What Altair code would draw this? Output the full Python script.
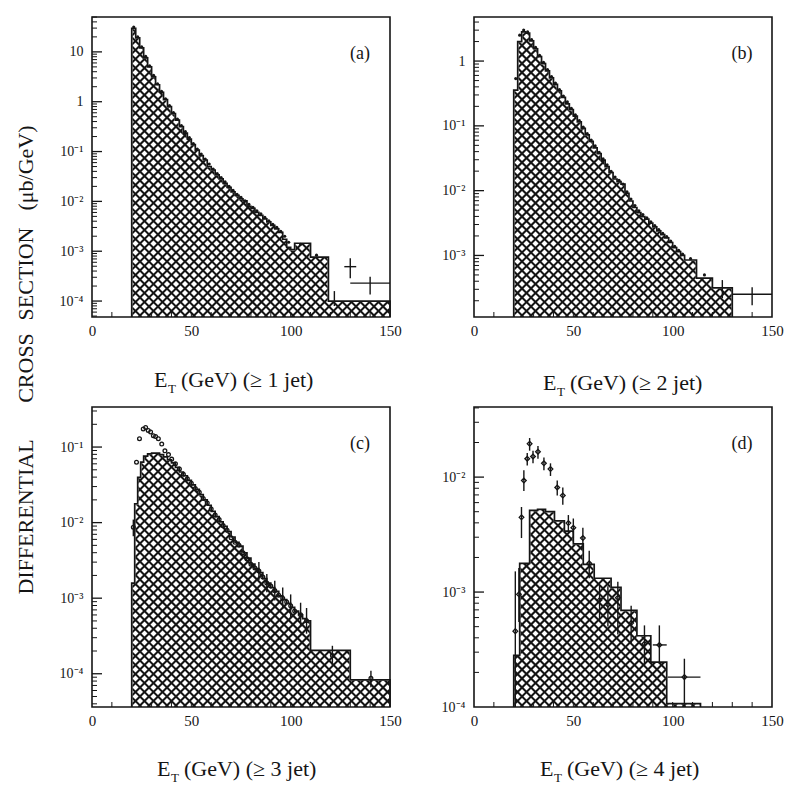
import math
import altair as alt
import pandas as pd

XMAX = 150
PW, PH = 298, 300
FONT = "Liberation Serif"
INK = "#151515"

# ---------------- values (log10 of dσ/dE_T in µb/GeV) ----------------
# (a)  >= 1 jet
A_EDGES = list(range(20, 101, 2)) + [102, 110, 119, 150]
A_HIST = [1.47, 1.28, 1.08, 0.88, 0.70, 0.50, 0.34, 0.19, 0.04, -0.10,
          -0.24, -0.37, -0.50, -0.63, -0.75, -0.86, -0.97, -1.08, -1.17, -1.30,
          -1.37, -1.47, -1.55, -1.64, -1.72, -1.81, -1.88, -1.95, -1.99, -2.10,
          -2.14, -2.22, -2.28, -2.35, -2.41, -2.48, -2.55, -2.62, -2.76, -2.92,
          -2.97, -2.84, -3.12, -4.00]
A_PTS_X = list(range(21, 100, 2)) + [105, 113]
A_PTS_Y = [1.50, 1.30, 1.10, 0.91, 0.72, 0.53, 0.36, 0.21, 0.06, -0.08,
           -0.22, -0.35, -0.48, -0.60, -0.72, -0.84, -0.95, -1.05, -1.15, -1.25,
           -1.35, -1.44, -1.52, -1.61, -1.70, -1.78, -1.86, -1.92, -1.99, -2.06,
           -2.12, -2.19, -2.25, -2.32, -2.39, -2.46, -2.52, -2.60, -2.70, -2.82,
           -2.86, -3.08]
A_ERR_X = [122, 130, 140]
A_ERR_MID = [-3.94, -3.31, -3.64]
A_ERR_LO = [-4.10, -3.54, -3.87]
A_ERR_HI = [-3.80, -3.14, -3.51]
A_XERR_Y = [-3.31, -3.64]
A_XERR_LO = [127, 130]
A_XERR_HI = [133, 150]

# (b)  >= 2 jet
B_EDGES = list(range(20, 107, 2)) + [112, 120, 130]
B_HIST = [-0.45, 0.30, 0.45, 0.43, 0.31, 0.19, 0.07, -0.04, -0.15, -0.26,
          -0.36, -0.46, -0.56, -0.66, -0.75, -0.85, -0.94, -1.04, -1.14, -1.24,
          -1.34, -1.43, -1.53, -1.63, -1.72, -1.82, -1.86, -1.90, -2.04, -2.16,
          -2.26, -2.34, -2.40, -2.44, -2.50, -2.56, -2.62, -2.68, -2.73, -2.80,
          -2.88, -2.94, -3.00, -3.07, -3.35, -3.50]
B_PTS_X = list(range(21, 106, 2)) + [109, 116]
B_PTS_Y = [-0.27, 0.40, 0.48, 0.45, 0.33, 0.21, 0.09, -0.02, -0.13, -0.24,
           -0.34, -0.44, -0.54, -0.63, -0.73, -0.83, -0.92, -1.02, -1.12, -1.22,
           -1.31, -1.41, -1.51, -1.60, -1.70, -1.79, -1.84, -1.90, -2.02, -2.13,
           -2.23, -2.31, -2.37, -2.42, -2.48, -2.54, -2.60, -2.66, -2.71, -2.78,
           -2.86, -2.92, -2.98, -3.05, -3.30]
B_ERR_X = [125, 140]
B_ERR_MID = [-3.50, -3.60]
B_ERR_LO = [-3.66, -3.77]
B_ERR_HI = [-3.38, -3.49]
B_XERR_Y = [-3.60]
B_XERR_LO = [130]
B_XERR_HI = [150]

# (c)  >= 3 jet
C_EDGES = [20, 21.5, 23, 24.5] + list(range(26, 111, 2)) + [130, 150]
C_HIST = [-2.80, -1.75, -1.40, -1.20,
          -1.12, -1.09, -1.08, -1.08, -1.10, -1.13, -1.17, -1.21, -1.27, -1.33,
          -1.38, -1.44, -1.50, -1.56, -1.63, -1.70, -1.77, -1.85, -1.92, -1.99,
          -2.05, -2.12, -2.19, -2.26, -2.31, -2.40, -2.47, -2.55, -2.61, -2.66,
          -2.74, -2.80, -2.86, -2.91, -2.97, -3.02, -3.07, -3.12, -3.17, -3.22,
          -3.27, -3.30,
          -3.69, -4.08]
C_PTS_X = [20.8, 22.4, 23.9, 25.8, 27.0, 28.3, 29.5, 30.9, 32.0, 33.4,
           35.1, 36.7, 38.5, 40.1, 42, 44, 46, 48, 50, 52,
           54, 56, 58, 60, 62, 64, 66, 68, 70, 72,
           74, 76, 78, 80, 82, 84, 86, 88, 90, 92,
           94, 96, 98, 100, 102, 105, 108, 121, 140.4]
C_PTS_Y = [-2.06, -1.20, -0.89, -0.76, -0.74, -0.78, -0.80, -0.85, -0.86, -0.89,
           -0.96, -1.05, -1.10, -1.16, -1.22, -1.29, -1.36, -1.42, -1.48, -1.55,
           -1.60, -1.68, -1.74, -1.82, -1.90, -1.96, -2.04, -2.10, -2.20, -2.26,
           -2.30, -2.40, -2.48, -2.55, -2.60, -2.64, -2.72, -2.80, -2.84, -2.90,
           -2.96, -3.00, -3.05, -3.10, -3.17, -3.22, -3.30, -3.76, -4.06]
C_ERR_X = [20.8, 84, 88, 92, 96, 100, 105, 108, 121, 140.4]
C_ERR_LO = [-2.18, -2.76, -2.92, -3.03, -3.14, -3.25, -3.38, -3.47, -3.89, -4.18]
C_ERR_HI = [-1.96, -2.52, -2.68, -2.77, -2.86, -2.95, -3.06, -3.13, -3.63, -3.96]
C_XERR_Y, C_XERR_LO, C_XERR_HI = [], [], []

# (d)  >= 4 jet
D_EDGES = [20, 23, 28, 32, 36, 40.5, 45.5, 50, 55, 60.5, 69, 74, 82, 89, 97, 114]
D_HIST = [-3.55, -2.75, -2.29, -2.28, -2.30, -2.38, -2.47, -2.58, -2.76, -2.88,
          -2.96, -3.16, -3.38, -3.61, -3.97]
D_PTS_X = [20.8, 22.6, 23.9, 25.1, 26.8, 28.0, 29.7, 32.2, 35.2, 38.5,
           41.9, 44.7, 47.5, 50.0, 54.8, 58.0, 63.2, 67.4, 72.4, 79.1,
           85.8, 93.3, 105.9]
D_PTS_Y = [-3.34, -3.02, -2.35, -2.03, -1.84, -1.71, -1.82, -1.78, -1.88, -1.93,
           -2.09, -2.16, -2.40, -2.44, -2.53, -2.75, -3.07, -3.11, -3.05, -3.27,
           -3.45, -3.46, -3.74]
D_ERR_LO = [-4.00, -3.26, -2.53, -2.12, -1.90, -1.77, -1.88, -1.84, -1.94, -1.99,
            -2.16, -2.24, -2.48, -2.53, -2.63, -2.88, -3.23, -3.30, -3.37, -3.45,
            -3.64, -3.62, -3.99]
D_ERR_HI = [-2.82, -2.79, -2.26, -1.94, -1.79, -1.66, -1.77, -1.73, -1.83, -1.88,
            -2.03, -2.09, -2.33, -2.36, -2.44, -2.64, -2.94, -2.95, -2.91, -3.12,
            -3.29, -3.29, -3.58]
D_XERR_Y = [-3.46, -3.74]
D_XERR_LO = [90, 97.5]
D_XERR_HI = [97, 114]

X_TICK_LABELS = [0, 50, 100, 150]

LABEL_EXPR = ("datum.value > 5 ? '10\u00a0\u00a0' : datum.value > 0.5 ? '1\u00a0\u00a0' : "
              "datum.value > 0.05 ? '10⁻¹' : datum.value > 0.005 ? '10⁻²' : "
              "datum.value > 0.0005 ? '10⁻³' : '10⁻⁴'")


def hatch_df(lmin, lmax, step=9.0):
    def dx(p):
        return p / PW * XMAX

    def dy(p):
        return 10 ** (lmax - p / PH * (lmax - lmin))

    rows = []
    c = step / 2
    while c < PW + PH:
        x0, x1 = max(0.0, c - PH), min(float(PW), c)
        rows.append(dict(x=dx(x0), y=dy(c - x0), x2=dx(x1), y2=dy(c - x1)))
        c += step
    c = -PH + step / 2
    while c < PW:
        x0, x1 = max(0.0, c), min(float(PW), c + PH)
        rows.append(dict(x=dx(x0), y=dy(x0 - c), x2=dx(x1), y2=dy(x1 - c)))
        c += step
    return pd.DataFrame(rows)


def one():
    return pd.DataFrame({"k": [0]})


def panel(tag, edges, hist, px, py, ex, elo, ehi, hy, hx0, hx1, ylim, njet,
          title_dx, title_base, marker, msize, mfilled):
    lmin, lmax = ylim
    ymin, ymax = 10 ** lmin, 10 ** lmax
    xs = alt.Scale(domain=[0, XMAX], nice=False, zero=False)
    ys = alt.Scale(type="log", domain=[ymin, ymax], nice=False)
    decades = [10 ** k for k in range(-6, 3) if lmin - 1e-6 <= k <= lmax + 1e-6]
    xaxis = alt.Axis(values=X_TICK_LABELS, ticks=False, domain=False, grid=False,
                     labelFlush=False, labelOverlap=False, labelFont=FONT,
                     labelFontSize=15, labelPadding=6, labelColor=INK, title=None)
    yaxis = alt.Axis(values=decades, labelExpr=LABEL_EXPR, ticks=False, domain=False,
                     grid=False, labelFlush=False, labelOverlap=False, labelFont=FONT,
                     labelFontSize=14, labelPadding=9, labelColor=INK, title=None)
    X = lambda f: alt.X(f, scale=xs, axis=xaxis)
    Y = lambda f: alt.Y(f, scale=ys, axis=yaxis)

    layers = []
    # cross-hatch over the whole plot, then white rectangles above the histogram
    layers.append(alt.Chart(hatch_df(lmin, lmax)).mark_rule(
        color=INK, strokeWidth=2.0, clip=True
    ).encode(x=X("x:Q"), x2="x2:Q", y=Y("y:Q"), y2="y2:Q"))

    vals = [10 ** v for v in hist]
    m_x0 = [0] + list(edges[:-1]) + [edges[-1]]
    m_x1 = [edges[0]] + list(edges[1:]) + [XMAX]
    m_y0 = [ymin] + vals + [ymin]
    mask_df = pd.DataFrame({"x0": m_x0, "x1": m_x1, "y0": m_y0, "y1": ymax})
    layers.append(alt.Chart(mask_df).mark_rect(
        color="white", stroke="white", strokeWidth=1.5, opacity=1, clip=True
    ).encode(x=X("x0:Q"), x2="x1:Q", y=Y("y0:Q"), y2="y1:Q"))

    out_rows = [(edges[0], ymin)] + list(zip(edges[:-1], vals)) + [(edges[-1], vals[-1]), (edges[-1], ymin)]
    out_df = pd.DataFrame({"x": [r[0] for r in out_rows], "y": [r[1] for r in out_rows],
                           "i": list(range(len(out_rows)))})
    layers.append(alt.Chart(out_df).mark_line(
        interpolate="step-after", color=INK, strokeWidth=1.7
    ).encode(x=X("x:Q"), y=Y("y:Q"), order="i:Q"))

    # inner ticks on the left and bottom edges
    minor, major = [], []
    for k in range(-6, 3):
        for d in range(1, 10):
            if lmin < k + math.log10(d) < lmax:
                (major if d == 1 else minor).append(d * 10 ** k)
    layers.append(alt.Chart(pd.DataFrame({"v": major})).mark_rule(color=INK, strokeWidth=1.3).encode(
        y=Y("v:Q"), x=alt.value(0), x2=alt.value(10)))
    layers.append(alt.Chart(pd.DataFrame({"v": minor})).mark_rule(color=INK, strokeWidth=1.0).encode(
        y=Y("v:Q"), x=alt.value(0), x2=alt.value(5)))
    layers.append(alt.Chart(pd.DataFrame({"v": list(range(10, 150, 10))})).mark_rule(
        color=INK, strokeWidth=1.0).encode(x=X("v:Q"), y=alt.value(PH), y2=alt.value(PH - 5)))

    # data: error bars and points
    if ex:
        err_df = pd.DataFrame({"x": ex, "lo": [10 ** v for v in elo], "hi": [10 ** v for v in ehi]})
        layers.append(alt.Chart(err_df).mark_rule(color=INK, strokeWidth=1.4).encode(
            x=X("x:Q"), y=Y("lo:Q"), y2="hi:Q"))
    if hy:
        herr_df = pd.DataFrame({"y": [10 ** v for v in hy], "x0": hx0, "x1": hx1})
        layers.append(alt.Chart(herr_df).mark_rule(color=INK, strokeWidth=1.4).encode(
            y=Y("y:Q"), x=X("x0:Q"), x2="x1:Q"))
    pts_df = pd.DataFrame({"x": px, "y": [10 ** v for v in py]})
    layers.append(alt.Chart(pts_df).mark_point(
        shape=marker, size=msize, filled=mfilled, color=INK, strokeWidth=1.3, opacity=1).encode(
        x=X("x:Q"), y=Y("y:Q")))

    # frame
    layers.append(alt.Chart(one()).mark_rect(fillOpacity=0, stroke=INK, strokeWidth=1.6).encode(
        x=alt.value(0), x2=alt.value(PW), y=alt.value(0), y2=alt.value(PH)))

    # panel tag
    layers.append(alt.Chart(one()).mark_text(text=tag, font=FONT, fontSize=18, color=INK,
                                             align="center", baseline="middle").encode(
        x=alt.value(268), y=alt.value(37)))

    # x title  E_T (GeV) (>= n jet)
    layers.append(alt.Chart(one()).mark_text(text="E", font=FONT, fontSize=22, color=INK,
                                             align="left", baseline="alphabetic").encode(
        x=alt.value(title_dx), y=alt.value(title_base)))
    layers.append(alt.Chart(one()).mark_text(text="T", font=FONT, fontSize=13, color=INK,
                                             align="left", baseline="alphabetic").encode(
        x=alt.value(title_dx + 14), y=alt.value(title_base + 6)))
    layers.append(alt.Chart(one()).mark_text(text=f"(GeV) (≥ {njet} jet)", font=FONT, fontSize=22,
                                             color=INK, align="left", baseline="alphabetic").encode(
        x=alt.value(title_dx + 27), y=alt.value(title_base)))
    return layers


pa_layers = panel("(a)", A_EDGES, A_HIST, A_PTS_X, A_PTS_Y, A_ERR_X, A_ERR_LO, A_ERR_HI,
                  A_XERR_Y, A_XERR_LO, A_XERR_HI, (-4.32, 1.70), 1, 62, 370, "circle", 10, True)
# big shared y title, placed beside panel (a)
for word, yc in [("(μb/GeV)", 151), ("SECTION", 257), ("CROSS", 351), ("DIFFERENTIAL", 500)]:
    pa_layers.append(alt.Chart(one()).mark_text(text=word, font=FONT, fontSize=22, color=INK,
                                                angle=270, align="center", baseline="middle").encode(
        x=alt.value(-66), y=alt.value(yc)))
pa = alt.layer(*pa_layers).properties(width=PW, height=PH)
pb = alt.layer(*panel("(b)", B_EDGES, B_HIST, B_PTS_X, B_PTS_Y, B_ERR_X, B_ERR_LO, B_ERR_HI,
                      B_XERR_Y, B_XERR_LO, B_XERR_HI, (-3.95, 0.68), 2, 69, 373, "circle", 10, True)
               ).properties(width=PW, height=PH)
pc = alt.layer(*panel("(c)", C_EDGES, C_HIST, C_PTS_X, C_PTS_Y, C_ERR_X, C_ERR_LO, C_ERR_HI,
                      C_XERR_Y, C_XERR_LO, C_XERR_HI, (-4.44, -0.47), 3, 65, 369, "circle", 14, False)
               ).properties(width=PW, height=PH)
pd_ = alt.layer(*panel("(d)", D_EDGES, D_HIST, D_PTS_X, D_PTS_Y, D_PTS_X, D_ERR_LO, D_ERR_HI,
                       D_XERR_Y, D_XERR_LO, D_XERR_HI, (-4.00, -1.39), 4, 66, 369, "diamond", 22, False)
                ).properties(width=PW, height=PH)

chart = alt.concat(pa, pb, pc, pd_, columns=2, spacing={"row": 90, "column": 84}, bounds="flush").properties(
    padding={"left": 15, "top": 16, "right": 2, "bottom": 2}, background="white"
).configure_view(strokeWidth=0)

chart.save("out.html", embed_options={"renderer": "svg", "actions": False})
